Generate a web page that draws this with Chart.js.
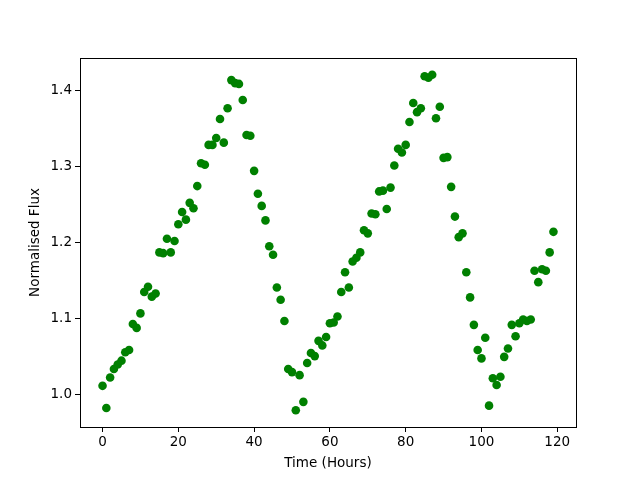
<!DOCTYPE html>
<html>
<head>
<meta charset="utf-8">
<script src="https://cdn.jsdelivr.net/npm/chart.js@4"></script>
<style>
  html, body { margin: 0; padding: 0; background: #fff; }
  #wrap { width: 640px; height: 480px; }
</style>
</head>
<body>
<div id="wrap"><canvas id="fluxChart" width="640" height="480"></canvas></div>
<script>
// hours since start of observation
const hours = [];
for (let h = 0; h < 120; h++) hours.push(h);

// normalised flux, one reading per hour
const flux = [
  1.012, 0.983, 1.023, 1.034, 1.040, 1.045, 1.056, 1.059, 1.093, 1.088,
  1.107, 1.135, 1.142, 1.129, 1.133, 1.187, 1.186, 1.205, 1.187, 1.202,
  1.224, 1.240, 1.230, 1.252, 1.245, 1.274, 1.304, 1.302, 1.328, 1.328,
  1.337, 1.362, 1.331, 1.376, 1.413, 1.409, 1.408, 1.387, 1.341, 1.340,
  1.294, 1.264, 1.248, 1.229, 1.195, 1.184, 1.141, 1.125, 1.097, 1.034,
  1.030, 0.980, 1.026, 0.991, 1.042, 1.055, 1.051, 1.071, 1.065, 1.076,
  1.094, 1.095, 1.103, 1.135, 1.161, 1.141, 1.175, 1.180, 1.187, 1.216,
  1.212, 1.238, 1.237, 1.267, 1.268, 1.244, 1.272, 1.301, 1.323, 1.318,
  1.328, 1.358, 1.383, 1.371, 1.376, 1.418, 1.416, 1.420, 1.363, 1.378,
  1.311, 1.312, 1.273, 1.234, 1.207, 1.212, 1.161, 1.128, 1.092, 1.059,
  1.048, 1.075, 0.986, 1.022, 1.013, 1.024, 1.050, 1.061, 1.092, 1.077,
  1.094, 1.099, 1.097, 1.099, 1.163, 1.148, 1.165, 1.163, 1.187, 1.214
];

const xTicks = [0, 20, 40, 60, 80, 100, 120];
const yTicks = [1.0, 1.1, 1.2, 1.3, 1.4];

const points = hours.map((h, i) => ({ x: h, y: flux[i] }));

// matplotlib-style frame round the plot area
const boxPlugin = {
  id: 'box',
  afterDraw(chart) {
    const a = chart.chartArea;
    const c = chart.ctx;
    c.save();
    c.strokeStyle = '#000';
    c.lineWidth = 1;
    c.strokeRect(Math.round(a.left) + 0.5, Math.round(a.top) + 0.5,
                 Math.round(a.right - a.left), Math.round(a.bottom - a.top));
    c.restore();
  }
};

const tickFont = { family: 'DejaVu Sans', size: 13.5 };

new Chart(document.getElementById('fluxChart').getContext('2d'), {
  type: 'scatter',
  data: {
    datasets: [{
      data: points,
      backgroundColor: '#008000',
      borderColor: '#008000',
      borderWidth: 0,
      pointRadius: 4.3
    }]
  },
  options: {
    responsive: false,
    animation: false,
    layout: { padding: { top: 58, right: 64, left: 0, bottom: 0 } },
    plugins: { legend: { display: false }, tooltip: { enabled: false } },
    scales: {
      x: {
        type: 'linear',
        min: -5.95,
        max: 124.95,
        afterBuildTicks(s) { s.ticks = xTicks.map(v => ({ value: v })); },
        afterFit(s) { s.height = 53; },
        grid: { drawOnChartArea: false, color: '#000', tickLength: 5, tickColor: '#000' },
        border: { display: false },
        ticks: { color: '#000', font: tickFont, padding: 2, maxRotation: 0,
                 callback: v => String(v) },
        title: { display: true, text: 'Time (Hours)', color: '#000',
                 font: tickFont, padding: { top: 0, bottom: 8 } }
      },
      y: {
        type: 'linear',
        min: 0.958,
        max: 1.442,
        afterBuildTicks(s) { s.ticks = yTicks.map(v => ({ value: v })); },
        afterFit(s) { s.width = 80; },
        grid: { drawOnChartArea: false, color: '#000', tickLength: 5, tickColor: '#000' },
        border: { display: false },
        ticks: { color: '#000', font: tickFont, padding: 3,
                 callback: v => Number(v).toFixed(1) },
        title: { display: true, text: 'Normalised Flux', color: '#000',
                 font: tickFont, padding: { top: 27, bottom: 0 } }
      }
    }
  },
  plugins: [boxPlugin]
});
</script>
</body>
</html>
